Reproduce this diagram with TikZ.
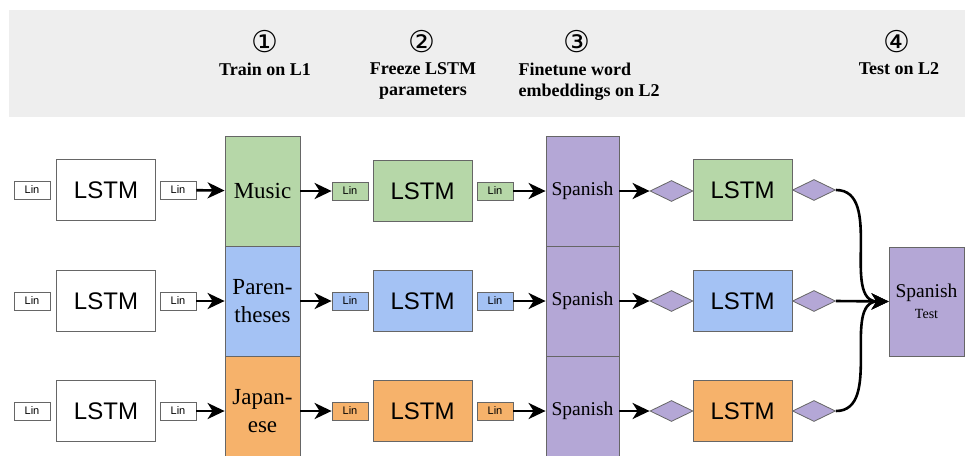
\documentclass[tikz,border=0pt]{standalone}
\usepackage{fontspec}
\setmainfont{Liberation Serif}
\setsansfont{Liberation Sans}
\newfontfamily\circfont{DejaVu Sans}
\usetikzlibrary{shapes.geometric,arrows.meta}
\definecolor{headgray}{HTML}{EEEEEE}
\definecolor{boxline}{HTML}{666666}
\definecolor{musicgreen}{HTML}{B6D7A8}
\definecolor{parenblue}{HTML}{A4C2F4}
\definecolor{japorange}{HTML}{F6B26B}
\definecolor{spanpurple}{HTML}{B4A7D6}

\begin{document}
\begin{tikzpicture}[x=1pt,y=-1pt,
  box/.style={draw=boxline,line width=0.8pt,inner sep=0pt},
  lin/.style={box,minimum width=36pt,minimum height=18pt,font=\sffamily\fontsize{11}{13}\selectfont},
  lstm/.style={box,minimum width=99pt,minimum height=61pt,font=\sffamily\fontsize{24}{28}\selectfont},
  langbox/.style={box,minimum width=75pt,minimum height=110pt,align=center,font=\fontsize{23}{28}\selectfont},
  spanbox/.style={box,fill=spanpurple,minimum width=73pt,minimum height=110pt,align=center,font=\fontsize{19.5}{22}\selectfont},
  gate/.style={draw=boxline,line width=0.8pt,fill=spanpurple,diamond,aspect=2,inner sep=0pt,minimum width=43pt,minimum height=21pt},
  headtext/.style={anchor=north,align=center,font=\bfseries\fontsize{18}{21}\selectfont},
  num/.style={font=\circfont\fontsize{30}{32}\selectfont},
  arr/.style={line width=2.6pt,-{Stealth[length=17pt,width=16pt,inset=5pt]}}]
\useasboundingbox (0,0) rectangle (965,455);
\clip (0,0) rectangle (965,455);

% header
\fill[headgray] (9,10) rectangle (965,117);
\node[num] (n1) at (265,42) {①};
\node[num] (n2) at (422,42) {②};
\node[num] (n3) at (577,42) {③};
\node[num] (n4) at (897,42) {④};
\node[headtext] (h1) at (265,59) {Train on L1};
\node[headtext] (h2) at (423,59) {Freeze LSTM\\parameters};
\node[headtext,anchor=north west,align=left] (h3) at (515,59) {Finetune word\\embeddings on L2};
\node[headtext] (h4) at (899,59) {Test on L2};

% step 1: train
\node[lin] (lina1) at (32,190) {Lin};
\node[lin] (lina2) at (32,301) {Lin};
\node[lin] (lina3) at (32,411) {Lin};
\node[lstm,fill=white] (lstma1) at (106,190) {LSTM};
\node[lstm,fill=white] (lstma2) at (106,301) {LSTM};
\node[lstm,fill=white] (lstma3) at (106,411) {LSTM};
\node[lin] (linb1) at (178,190) {Lin};
\node[lin] (linb2) at (178,301) {Lin};
\node[lin] (linb3) at (178,411) {Lin};
\node[langbox,fill=musicgreen] (music) at (262.5,191) {Music};
\node[langbox,fill=parenblue] (paren) at (262.5,301) {Paren-\\theses};
\node[langbox,fill=japorange] (japan) at (262.5,411) {Japan-\\ese};

% step 2: freeze
\node[lin,fill=musicgreen] (linc1) at (350,191) {Lin};
\node[lin,fill=parenblue] (linc2) at (350,301) {Lin};
\node[lin,fill=japorange] (linc3) at (350,411) {Lin};
\node[lstm,fill=musicgreen] (lstmb1) at (422.5,191) {LSTM};
\node[lstm,fill=parenblue] (lstmb2) at (422.5,301) {LSTM};
\node[lstm,fill=japorange] (lstmb3) at (422.5,411) {LSTM};
\node[lin,fill=musicgreen] (lind1) at (495,191) {Lin};
\node[lin,fill=parenblue] (lind2) at (495,301) {Lin};
\node[lin,fill=japorange] (lind3) at (495,411) {Lin};

% step 3: finetune
\node[spanbox] (sp1) at (582.5,191) {Spanish};
\node[spanbox] (sp2) at (582.5,301) {Spanish};
\node[spanbox] (sp3) at (582.5,411) {Spanish};
\node[gate] (dia1) at (671.5,191) {};
\node[gate] (dia2) at (671.5,301) {};
\node[gate] (dia3) at (671.5,411) {};
\node[lstm,fill=musicgreen] (lstmc1) at (742.5,190) {LSTM};
\node[lstm,fill=parenblue] (lstmc2) at (742.5,301) {LSTM};
\node[lstm,fill=japorange] (lstmc3) at (742.5,411) {LSTM};
\node[gate] (dib1) at (814,190) {};
\node[gate] (dib2) at (814,301) {};
\node[gate] (dib3) at (814,411) {};

% step 4: test
\node[spanbox,minimum width=75pt,minimum height=109pt] (test) at (926.5,301.5) {Spanish\\[-1pt]{\fontsize{14}{16}\selectfont Test}};

\draw[arr] (linb1) -- (music);
\draw[arr] (linb2) -- (paren);
\draw[arr] (linb3) -- (japan);
\draw[arr] (music) -- (linc1);
\draw[arr] (paren) -- (linc2);
\draw[arr] (japan) -- (linc3);
\draw[arr] (lind1) -- (sp1);
\draw[arr] (lind2) -- (sp2);
\draw[arr] (lind3) -- (sp3);
\draw[arr] (sp1) -- (dia1);
\draw[arr] (sp2) -- (dia2);
\draw[arr] (sp3) -- (dia3);
\draw[arr] (dib1.east) to[out=0,in=180] (test.west);
\draw[arr] (dib2.east) -- (test.west);
\draw[arr] (dib3.east) to[out=0,in=180] (test.west);
\end{tikzpicture}
\end{document}
